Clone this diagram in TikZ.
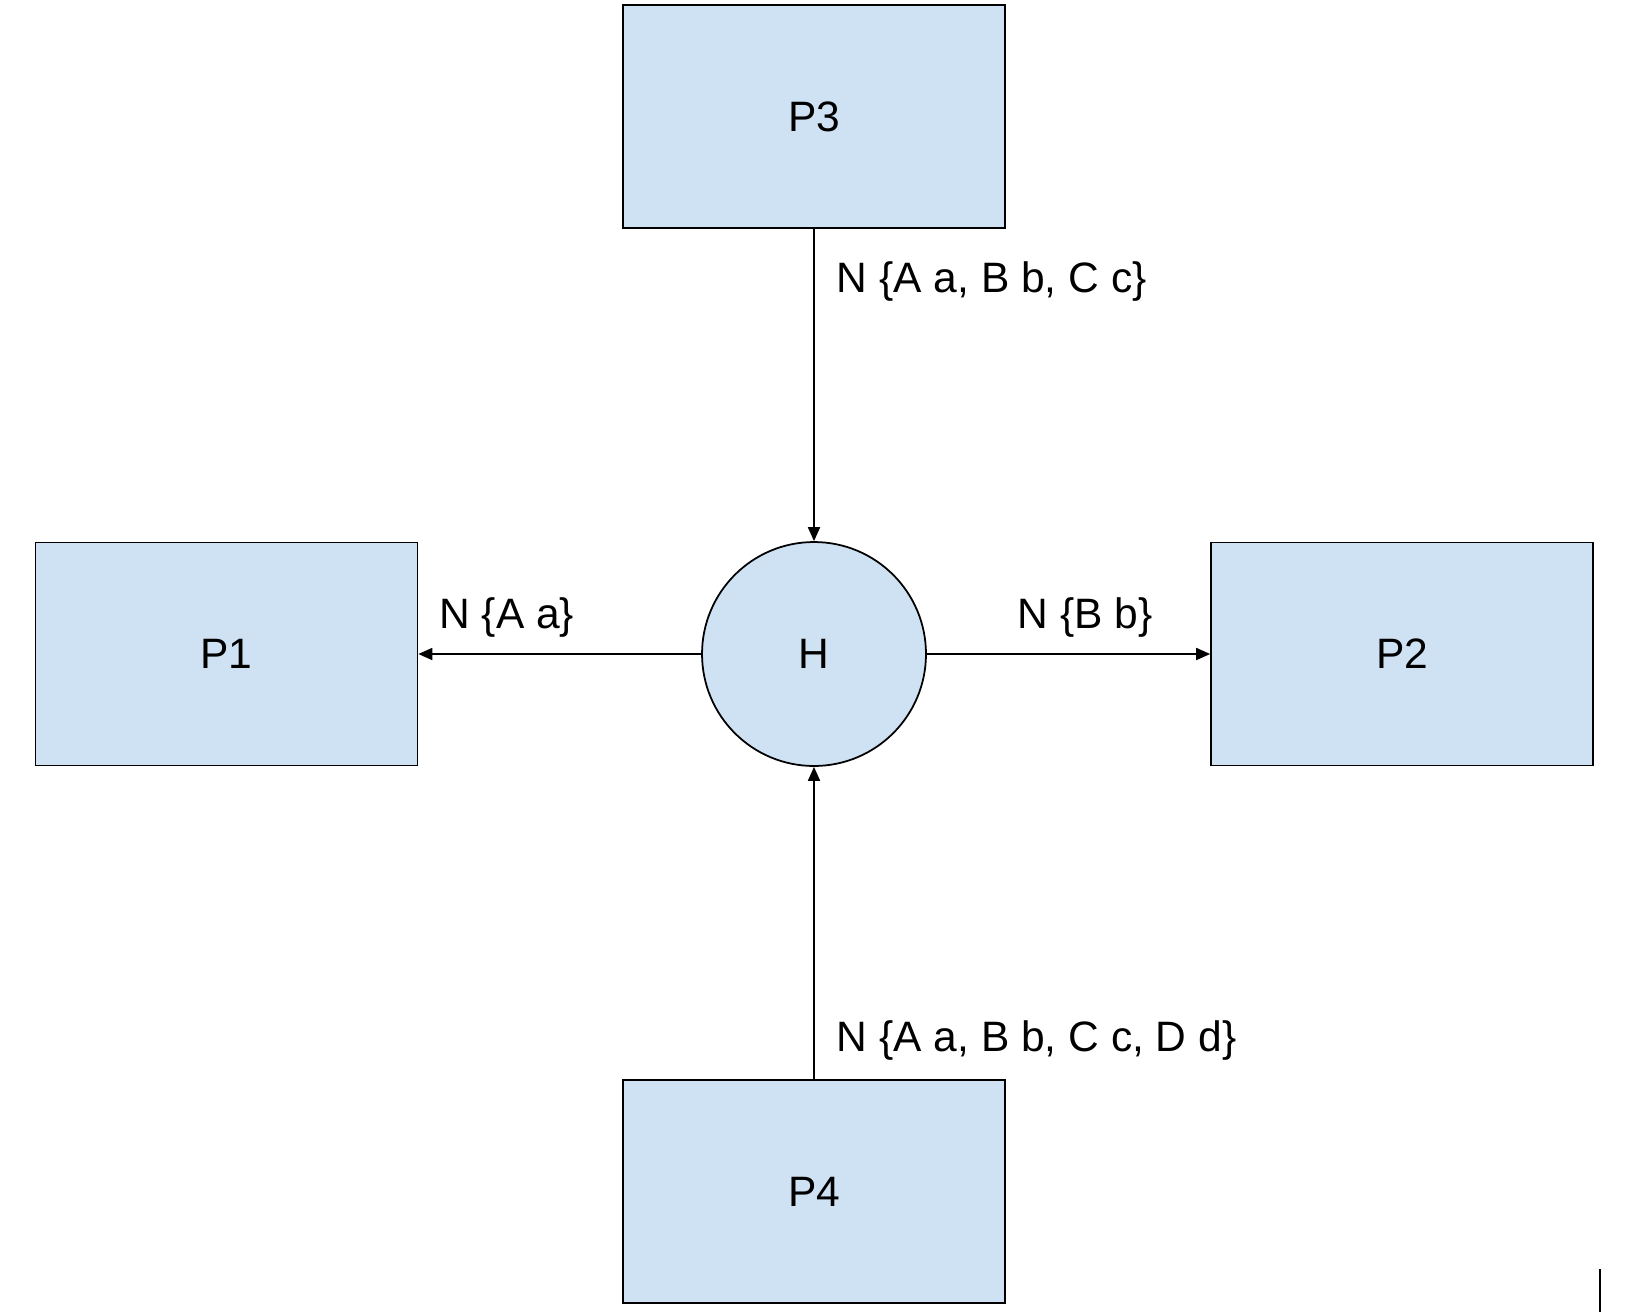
\documentclass[tikz,border=0pt]{standalone}
\usepackage{fontspec}
\setmainfont{Liberation Sans}
\usetikzlibrary{arrows.meta}
\definecolor{boxblue}{HTML}{CFE2F3}

\begin{document}
\begin{tikzpicture}[
  x=0.02cm, y=-0.02cm, >={Triangle[length=2.8mm, width=2.4mm]},
  every node/.style={font=\fontsize{24.2}{28}\selectfont},
  proc/.style={draw, line width=1pt, fill=boxblue, minimum width=7.64cm, minimum height=4.46cm},
  hub/.style={draw, line width=1pt, fill=boxblue, circle, minimum size=4.48cm},
  link/.style={->, line width=1pt},
  lbl/.style={inner sep=0pt},
]
\useasboundingbox (0,0) rectangle (1642,1315);

\node[proc] (P3) at (814, 116.5) {P3};
\node[proc] (P1) at (226.5, 654) {P1};
\node[proc] (P2) at (1402, 654) {P2};
\node[proc] (P4) at (814, 1191.5) {P4};
\node[hub] (H) at (814, 654) {H};

\draw[link] (P3) -- node[lbl, pos=0.167, anchor=west, xshift=0.44cm]
  {N \{A a, B b, C c\}} (H);
\draw[link] (P4) -- node[lbl, pos=0.125, anchor=west, xshift=0.44cm]
  {N \{A a, B b, C c, D d\}} (H);
\draw[link] (H) -- node[lbl, pos=0.687, yshift=0.73cm] {N \{A a\}} (P1);
\draw[link] (H) -- node[lbl, pos=0.558, yshift=0.73cm] {N \{B b\}} (P2);

\draw[line width=1.1pt] (1600, 1269) -- (1600, 1312);
\end{tikzpicture}
\end{document}
